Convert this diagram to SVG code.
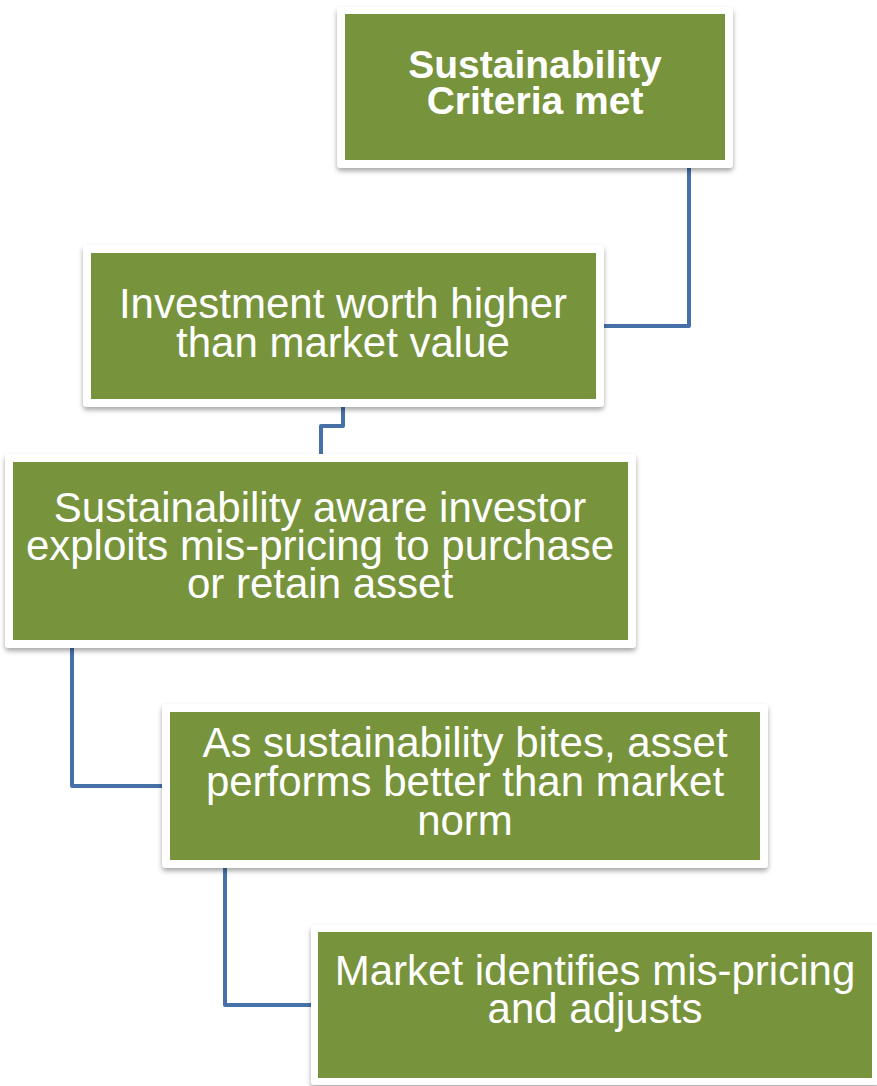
<svg xmlns="http://www.w3.org/2000/svg" width="877" height="1086" viewBox="0 0 877 1086">
<style>
.frame{fill:#ffffff;filter:url(#sh);}
.box{fill:#77933c;}
.t{font-family:"Liberation Sans",Arial,sans-serif;font-size:42px;fill:#ffffff;text-anchor:middle;}
.tb{font-family:"Liberation Sans",Arial,sans-serif;font-size:39px;font-weight:bold;fill:#ffffff;text-anchor:middle;}
.c{fill:none;stroke:#4671a8;stroke-width:4;stroke-linejoin:round;}
</style>
<defs>
<filter id="sh" x="-5%" y="-10%" width="110%" height="125%">
<feDropShadow dx="0" dy="3" stdDeviation="2.5" flood-color="#000000" flood-opacity="0.35"/>
</filter>
</defs>
<rect width="877" height="1086" fill="#ffffff"/>
<g id="connectors">
<path class="c" d="M689,168 V326 H604"/>
<path class="c" d="M343,407 V426 H321 V454"/>
<path class="c" d="M72,648 V786 H162"/>
<path class="c" d="M225,868 V1005 H311"/>
</g>
<g id="n1">
<rect class="frame" x="337" y="7" width="396" height="161" rx="4"/>
<rect class="box" x="345" y="14" width="380" height="146"/>
<text class="tb" x="535" y="78">Sustainability</text>
<text class="tb" x="535" y="114">Criteria met</text>
</g>
<g id="n2">
<rect class="frame" x="83" y="245" width="521" height="162" rx="4"/>
<rect class="box" x="91" y="253" width="505" height="146"/>
<text class="t" x="343" y="318">Investment worth higher</text>
<text class="t" x="343" y="357">than market value</text>
</g>
<g id="n3">
<rect class="frame" x="5" y="454" width="631" height="194" rx="4"/>
<rect class="box" x="13" y="462" width="615" height="178"/>
<text class="t" x="320" y="522">Sustainability aware investor</text>
<text class="t" x="320" y="560">exploits mis-pricing to purchase</text>
<text class="t" x="320" y="598">or retain asset</text>
</g>
<g id="n4">
<rect class="frame" x="162" y="704" width="606" height="164" rx="4"/>
<rect class="box" x="170" y="712" width="590" height="148"/>
<text class="t" x="465" y="757">As sustainability bites, asset</text>
<text class="t" x="465" y="796">performs better than market</text>
<text class="t" x="465" y="835">norm</text>
</g>
<g id="n5">
<rect class="frame" x="311" y="925" width="568" height="160" rx="4"/>
<rect class="box" x="318" y="932" width="554" height="146"/>
<text class="t" x="595" y="985">Market identifies mis-pricing</text>
<text class="t" x="595" y="1023">and adjusts</text>
</g>
</svg>
